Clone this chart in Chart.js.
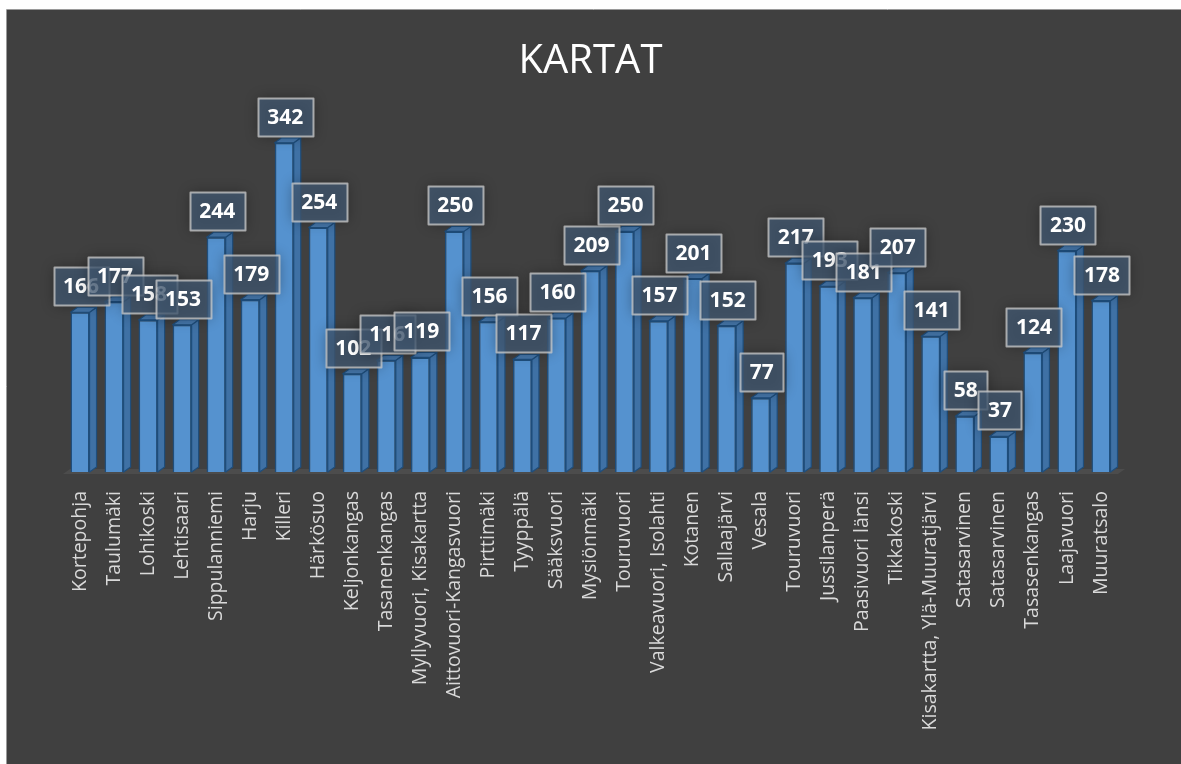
<!DOCTYPE html>
<html><head><meta charset="utf-8">
<script src="https://cdn.jsdelivr.net/npm/chart.js@4.4.1/dist/chart.umd.min.js"></script>
<style>html,body{margin:0;padding:0;background:#fff;overflow:hidden}</style>
</head><body>
<canvas id="c" width="1181" height="764"></canvas>
<script>
const chartTitle = 'KARTAT';
const categories = ['Kortepohja','Taulumäki','Lohikoski','Lehtisaari','Sippulanniemi','Harju','Killeri','Härkösuo','Keljonkangas','Tasanenkangas','Myllyvuori, Kisakartta','Aittovuori-Kangasvuori','Pirttimäki','Tyyppälä','Sääksvuori','Mysiönmäki','Touruvuori','Valkeavuori, Isolahti','Kotanen','Sallaajärvi','Vesala','Touruvuori','Jussilanperä','Paasivuori länsi','Tikkakoski','Kisakartta, Ylä-Muuratjärvi','Satasarvinen','Satasarvinen','Tasasenkangas','Laajavuori','Muuratsalo'];
const values = [166,177,158,153,244,179,342,254,102,116,119,250,156,117,160,209,250,157,201,152,77,217,193,181,207,141,58,37,124,230,178];

const DX = 7, DY = 5;
const bgPlugin = {
  id: 'bgPlugin',
  beforeDraw(chart) {
    const ctx = chart.ctx, w = chart.width, h = chart.height;
    ctx.save();
    ctx.fillStyle = '#ffffff'; ctx.fillRect(0, 0, w, h);
    ctx.fillStyle = '#404040'; ctx.fillRect(7, 10, w - 7, h - 10);
    ctx.strokeStyle = '#9a9a9a'; ctx.lineWidth = 1;
    ctx.beginPath(); ctx.moveTo(6.5, h); ctx.lineTo(6.5, 9.5); ctx.lineTo(w, 9.5); ctx.stroke();
    ctx.restore();
  },
  beforeDatasetsDraw(chart) {
    const ctx = chart.ctx, a = chart.chartArea;
    const base = chart.scales.y.getPixelForValue(0);
    ctx.save();
    ctx.fillStyle = '#4c4c4c';
    ctx.beginPath();
    ctx.moveTo(a.left, base + 2); ctx.lineTo(a.right, base + 2);
    ctx.lineTo(a.right + DX, base + 2 - DY); ctx.lineTo(a.left + DX, base + 2 - DY);
    ctx.closePath(); ctx.fill();
    ctx.restore();
  },
  afterDatasetsDraw(chart) {
    const ctx = chart.ctx;
    const meta = chart.getDatasetMeta(0);
    ctx.save();
    meta.data.forEach(el => {
      const x0 = el.x - el.width / 2, x1 = el.x + el.width / 2, yt = el.y, yb = el.base;
      ctx.lineWidth = 1.2; ctx.strokeStyle = '#1f4e7c'; ctx.lineJoin = 'round';
      ctx.fillStyle = '#3f71a5';
      ctx.beginPath();
      ctx.moveTo(x1, yb); ctx.lineTo(x1, yt); ctx.lineTo(x1 + DX, yt - DY); ctx.lineTo(x1 + DX, yb - DY);
      ctx.closePath(); ctx.fill(); ctx.stroke();
      ctx.fillStyle = '#4677ab';
      ctx.beginPath();
      ctx.moveTo(x0, yt); ctx.lineTo(x1, yt); ctx.lineTo(x1 + DX, yt - DY); ctx.lineTo(x0 + DX, yt - DY);
      ctx.closePath(); ctx.fill(); ctx.stroke();
    });
    ctx.font = 'bold 21px "Open Sans"';
    ctx.textAlign = 'center'; ctx.textBaseline = 'middle';
    meta.data.forEach((el, i) => {
      const txt = String(values[i]);
      const tw = ctx.measureText(txt).width;
      const bw = Math.round(tw + 19), bh = 38;
      const cx = el.x + 1, cy = el.y - 26;
      const bx = Math.round(cx - bw / 2) + 0.5, by = Math.round(cy - bh / 2) + 0.5;
      ctx.save();
      ctx.shadowColor = 'rgba(0,0,0,0.45)'; ctx.shadowBlur = 14;
      ctx.fillStyle = 'rgba(68,91,118,0.72)';
      ctx.fillRect(bx, by, bw, bh);
      ctx.restore();
      ctx.strokeStyle = 'rgba(205,205,205,0.75)'; ctx.lineWidth = 2;
      ctx.strokeRect(bx, by, bw, bh);
      ctx.fillStyle = '#ffffff';
      ctx.fillText(txt, cx, cy + 1);
    });
    ctx.restore();
  }
};

new Chart(document.getElementById('c'), {
  type: 'bar',
  data: {
    labels: categories,
    datasets: [{
      data: values,
      backgroundColor: '#5592cf',
      borderColor: '#1f4e7c',
      borderWidth: 1.5,
      categoryPercentage: 1,
      barPercentage: 0.56
    }]
  },
  options: {
    responsive: false,
    animation: false,
    events: [],
    layout: { padding: { left: 63, right: 63, top: 0, bottom: 0 } },
    plugins: {
      legend: { display: false },
      tooltip: { enabled: false },
      title: {
        display: true, text: chartTitle, color: '#ffffff',
        font: { family: '"Open Sans"', size: 40, weight: 'normal', lineHeight: 1.2 },
        padding: { top: 38, bottom: 1 }
      }
    },
    scales: {
      x: {
        grid: { display: false, drawTicks: false },
        border: { display: false },
        ticks: {
          color: '#d9d9d9', font: { family: '"Open Sans"', size: 19.5 },
          maxRotation: 90, minRotation: 90, padding: 19, autoSkip: false
        },
        afterFit(scale) { scale.height = 292; }
      },
      y: { display: false, min: 0, max: 400 }
    }
  },
  plugins: [bgPlugin]
});
</script>
</body></html>
